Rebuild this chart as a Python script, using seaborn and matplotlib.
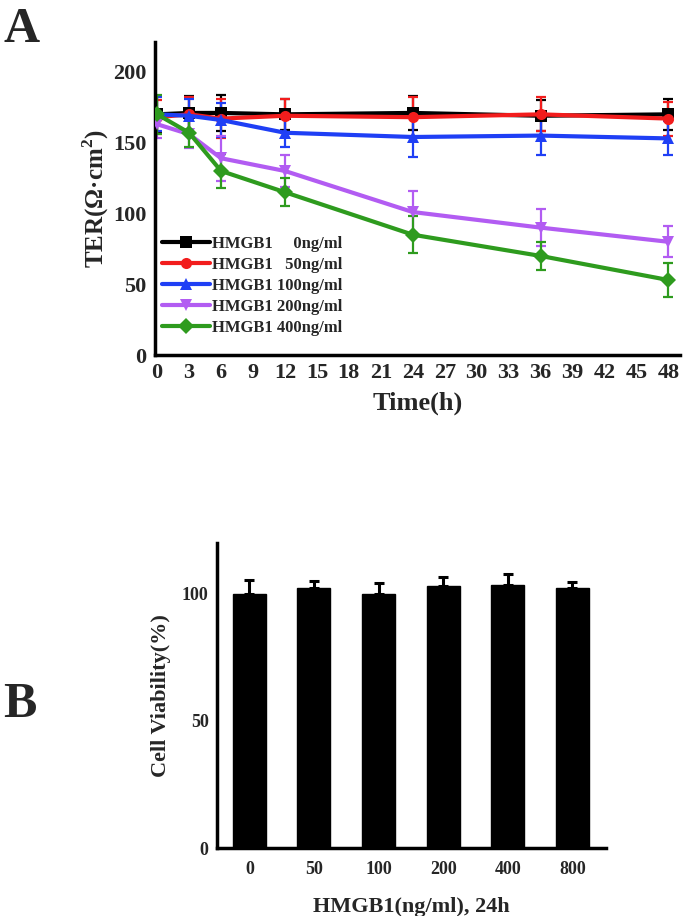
import numpy as np
import pandas as pd
import matplotlib
matplotlib.use("Agg")
import matplotlib.pyplot as plt
import seaborn as sns

# Panel A: TER over time for each HMGB1 dose
hours = [0, 3, 6, 12, 24, 36, 48]
dose_labels = ["HMGB1     0ng/ml", "HMGB1   50ng/ml", "HMGB1 100ng/ml",
               "HMGB1 200ng/ml", "HMGB1 400ng/ml"]
ter_0 = [170, 171, 171, 170, 171, 169, 170]
ter_50 = [168, 170, 167, 169, 168, 170, 167]
ter_100 = [170, 169, 166, 157, 154, 155, 153]
ter_200 = [163, 156, 139, 130, 101, 90, 80]
ter_400 = [170, 157, 130, 115, 85, 70, 53]
err_0 = [13, 12, 13, 11, 12, 11, 11]
err_50 = [12, 12, 14, 12, 14, 12, 12]
err_100 = [12, 12, 12, 10, 14, 14, 12]
err_200 = [10, 10, 16, 11, 15, 13, 11]
err_400 = [14, 10, 12, 10, 13, 10, 12]

# Panel B: cell viability after 24h
conc = ["0", "50", "100", "200", "400", "800"]
viability = [100, 102.2, 100.1, 103, 103.3, 102.2]
viability_err = [5.6, 3.0, 4.2, 3.8, 4.6, 2.5]

colors = ["#000000", "#F21D1D", "#1F3FF5", "#B25CF2", "#2E9B1E"]
markers = ["s", "o", "^", "v", "D"]

sns.set_style("white")
plt.rcParams["font.family"] = ["Liberation Serif", "DejaVu Serif"]
plt.rcParams["font.weight"] = "bold"
plt.rcParams["mathtext.fontset"] = "custom"
plt.rcParams["mathtext.rm"] = "Liberation Serif:bold"
plt.rcParams["mathtext.bf"] = "Liberation Serif:bold"

fig = plt.figure(figsize=(6.89, 9.16), dpi=100)

# ---- Panel A ----
ax = fig.add_axes([0.225, 0.6124, 0.762, 0.3416])
all_ter = [ter_0, ter_50, ter_100, ter_200, ter_400]
all_err = [err_0, err_50, err_100, err_200, err_400]
df = pd.DataFrame({
    "Time": np.tile(hours, len(dose_labels)),
    "TER": np.concatenate(all_ter),
    "Dose": np.repeat(dose_labels, len(hours)),
})
pal = dict(zip(dose_labels, colors))
mk = dict(zip(dose_labels, markers))
for lab, vals, errs in zip(dose_labels, all_ter, all_err):
    ax.errorbar(hours, vals, yerr=errs, fmt="none", ecolor=pal[lab],
                elinewidth=1.6, capsize=3.5, capthick=1.6, zorder=2)
sns.lineplot(data=df, x="Time", y="TER", hue="Dose", style="Dose",
             palette=pal, markers=mk, dashes=False, linewidth=3,
             markersize=8, markeredgewidth=0, ax=ax, zorder=3)

ax.set_xlim(-0.2, 49.1)
ax.set_ylim(0, 221)
ax.set_xticks(range(0, 49, 3))
ax.set_yticks([0, 50, 100, 150, 200])
ax.tick_params(axis="both", direction="out", length=4, width=2.5,
               labelsize=16, pad=2)
for t in ax.get_xticklabels() + ax.get_yticklabels():
    t.set_fontweight("bold")
ax.set_xlabel("Time(h)", fontsize=19, fontweight="bold", labelpad=6)
ax.set_ylabel("TER(Ω·cm$^\\mathbf{2}$)", fontsize=18, fontweight="bold", labelpad=2)
sns.despine(ax=ax)
for s in ["left", "bottom"]:
    ax.spines[s].set_linewidth(2.5)
    ax.spines[s].set_color("black")
leg = ax.legend(loc="upper left", bbox_to_anchor=(0.013, 0.382), frameon=False,
                fontsize=12, handlelength=2.9, handletextpad=0.1,
                labelspacing=0.3, borderpad=0, borderaxespad=0)
for t in leg.get_texts():
    t.set_fontweight("bold")
fig.text(0.005, 0.992, "A", fontsize=36, fontweight="bold", va="top", ha="left")

# ---- Panel B ----
bx = fig.add_axes([0.315, 0.0742, 0.5645, 0.333])
sns.barplot(x=conc, y=viability, color="black", width=0.51, ax=bx,
            saturation=1, edgecolor="black")
bx.errorbar(range(len(conc)), viability,
            yerr=[np.zeros(len(conc)), viability_err], fmt="none",
            ecolor="black", elinewidth=2.2, capsize=3.5, capthick=2.2)
bx.set_xlim(-0.5, 5.52)
bx.set_ylim(0, 120)
bx.set_yticks([0, 50, 100])
bx.tick_params(axis="y", direction="out", length=4, width=2.5, labelsize=13, pad=2)
bx.tick_params(axis="x", length=0, labelsize=13, pad=9)
for t in bx.get_xticklabels() + bx.get_yticklabels():
    t.set_fontweight("bold")
bx.set_xlabel("HMGB1(ng/ml), 24h", fontsize=16, fontweight="bold", labelpad=14)
bx.set_ylabel("Cell Viability(%)", fontsize=16, fontweight="bold", labelpad=8)
sns.despine(ax=bx)
for s in ["left", "bottom"]:
    bx.spines[s].set_linewidth(2.5)
    bx.spines[s].set_color("black")
fig.text(0.005, 0.256, "B", fontsize=36, fontweight="bold", va="top", ha="left")

fig.savefig("out.png", dpi=100)
